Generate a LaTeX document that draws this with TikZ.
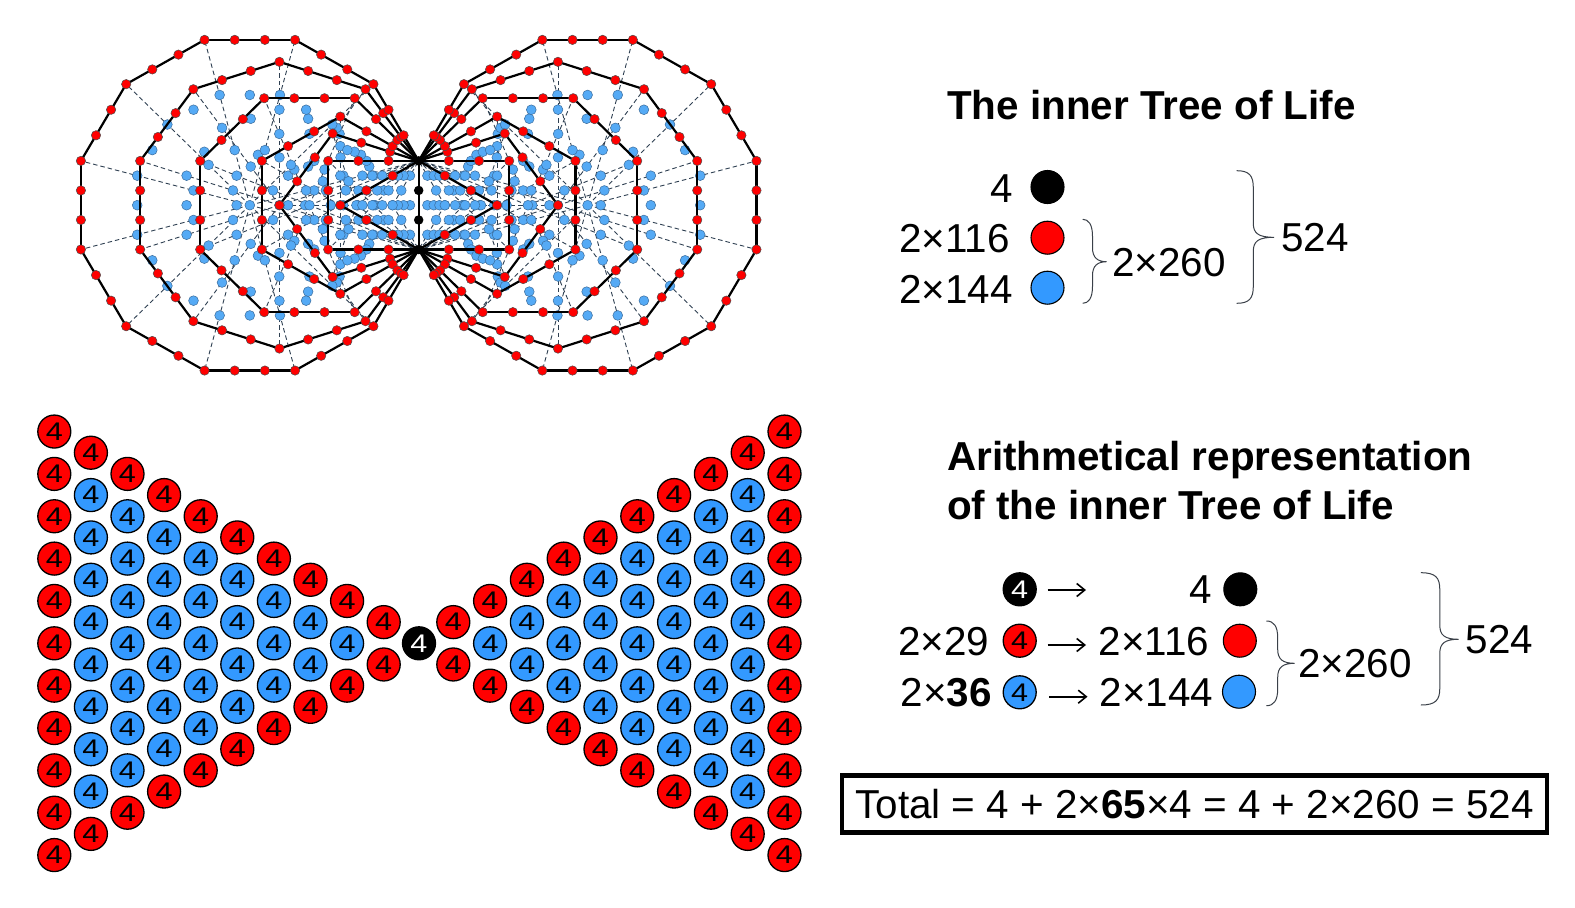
\documentclass[tikz,border=0pt]{standalone}
\usepackage{fontspec}
\setmainfont{Liberation Sans}
\newfontfamily\widefour[FakeStretch=1.2]{Liberation Sans}
\usetikzlibrary{calc,arrows.meta}
\definecolor{rd}{HTML}{FF0000}
\definecolor{bl}{HTML}{3399FF}
\definecolor{smallbl}{HTML}{55AAF5}
\definecolor{spokec}{HTML}{2F4052}
\definecolor{dotedge}{HTML}{3B6C9C}
\definecolor{bracec}{HTML}{3A4048}
\tikzset{
  spoke/.style={draw=spokec,line width=0.9pt,dash pattern=on 4.5pt off 3pt},
  edgeline/.style={draw=black,line width=2.2pt},
  reddot/.style={circle,inner sep=0pt,minimum size=9.4pt,fill=rd,draw=black!70,line width=0.5pt},
  bluedot/.style={circle,inner sep=0pt,minimum size=9.8pt,fill=smallbl,draw=dotedge,line width=0.5pt},
  blackdot/.style={circle,inner sep=0pt,minimum size=9.5pt,fill=black},
  numc/.style={circle,inner sep=0pt,minimum size=33pt,line width=1.3pt,draw=black,font=\widefour\fontsize{25.5}{25.5}\selectfont,text=black},
  numred/.style={numc,fill=rd},
  numblue/.style={numc,fill=bl},
  numblack/.style={numc,fill=black,text=white},
  legc/.style={circle,inner sep=0pt,minimum size=33pt,line width=1.1pt,draw=black},
  big/.style={inner sep=0pt,font=\fontsize{40.4}{40.4}\selectfont},
  ttl/.style={inner sep=0pt,font=\fontsize{40.4}{40.4}\selectfont\bfseries},
  bracket/.style={draw=bracec,line width=1pt},
  keyarrow/.style={draw=black,line width=1.7pt,-{Straight Barb[length=8pt,width=13pt,line width=1.6pt]}},
}
\newcommand\mybrace[6]{% x0 xm xt y0 ym y1
  \draw[bracket] (#1,#4) .. controls ({#2-4},#4) and (#2,{#4+5}) .. (#2,{#4+17})
    -- (#2,{#5-14}) .. controls (#2,{#5-4}) and ({#2+5},#5) .. (#3,#5)
    .. controls ({#2+5},#5) and (#2,{#5+4}) .. (#2,{#5+14})
    -- (#2,{#6-17}) .. controls (#2,{#6-5}) and ({#2-4},#6) .. (#1,#6);
}
\begin{document}
\begin{tikzpicture}[x=1pt,y=-1pt]
\useasboundingbox (0,0) rectangle (1575,908);
\fill[white] (0,0) rectangle (1575,908);
% ---- named geometry of the polygons
\foreach \sd/\sg in {L/1,R/-1} {
  \begin{scope}[shift={(418.7,205.2)},xscale=\sg*90.5,yscale=88.6]
  \coordinate (A\sd) at (0,-0.5);
  \coordinate (B\sd) at (0,0.5);
  \foreach \n in {3,4,5,6,8,10,12} {
    \pgfmathsetmacro\apo{0.5/tan(180/\n)}
    \pgfmathsetmacro\rad{0.5/sin(180/\n)}
    \coordinate (c\sd\n) at ({-\apo},0);
    \pgfmathtruncatemacro\last{\n-1}
    \foreach \k in {0,...,\last} {
      \coordinate (v\sd\n-\k) at ({-\apo+\rad*cos(180/\n+360*\k/\n)},{\rad*sin(180/\n+360*\k/\n)});
    }
  }
  \end{scope}
}
% ---- spokes
\foreach \sd in {L,R} \foreach \n in {3,4,5,6,8,10,12} {
  \pgfmathtruncatemacro\last{\n-1}
  \foreach \k in {0,...,\last} \draw[spoke] (c\sd\n) -- (v\sd\n-\k);
}
% ---- blue dots
\foreach \sd in {L,R} \foreach \n in {3,4,5,6,8,10,12} {
  \pgfmathtruncatemacro\last{\n-1}
  \node[bluedot] (bc\sd\n) at (c\sd\n) {};
  \foreach \k in {0,...,\last} {
    \pgfmathtruncatemacro\nx{mod(\k+1,\n)}
    \node[bluedot] (ba\sd\n-\k) at ($(c\sd\n)!0.3333!(v\sd\n-\k)$) {};
    \node[bluedot] (bb\sd\n-\k) at ($(c\sd\n)!0.6667!(v\sd\n-\k)$) {};
    \node[bluedot] (bm\sd\n-\k) at ($(c\sd\n)!0.6667!($(v\sd\n-\k)!0.5!(v\sd\n-\nx)$)$) {};
  }
}
% ---- polygon edges
\foreach \sd in {L,R} \foreach \n in {3,4,5,6,8,10,12} {
  \pgfmathtruncatemacro\last{\n-1}
  \foreach \k in {0,...,\last} {
    \pgfmathtruncatemacro\nx{mod(\k+1,\n)}
    \draw[edgeline] (v\sd\n-\k) -- (v\sd\n-\nx);
  }
}
% ---- red dots
\foreach \sd in {L,R} \foreach \n in {3,4,5,6,8,10,12} {
  \pgfmathtruncatemacro\last{\n-1}
  \foreach \k in {0,...,\last} {
    \pgfmathtruncatemacro\nx{mod(\k+1,\n)}
    \ifnum\k=\last\relax\else
      \node[reddot] (ra\sd\n-\k) at ($(v\sd\n-\k)!0.3333!(v\sd\n-\nx)$) {};
      \node[reddot] (rb\sd\n-\k) at ($(v\sd\n-\k)!0.6667!(v\sd\n-\nx)$) {};
    \fi
    \ifnum\k>0\relax
      \ifnum\k<\last\relax
        \node[reddot] (rv\sd\n-\k) at (v\sd\n-\k) {};
      \fi
    \fi
  }
}
% ---- central black points
\node[blackdot] (ka) at (AL) {};
\node[blackdot] (kb) at (BL) {};
\node[blackdot] (k1) at ($(AL)!0.3333!(BL)$) {};
\node[blackdot] (k2) at ($(AL)!0.6667!(BL)$) {};
% ---- arithmetical butterfly
\foreach \sd/\xo/\st in {L/54.3/36.6,R/784.5/-36.8} {
  \foreach \c in {0,...,9} {
    \pgfmathtruncatemacro\cnt{11-\c}
    \pgfmathtruncatemacro\lastI{\cnt-1}
    \foreach \i in {0,...,\lastI} {
      \pgfmathsetmacro\xx{\xo+\c*\st}
      \pgfmathsetmacro\yy{643.3+(\i-\lastI/2)*42.35}
      \def\sty{numblue}
      \ifnum\c=0\relax\def\sty{numred}\fi
      \ifnum\i=0\relax\def\sty{numred}\fi
      \ifnum\i=\lastI\relax\def\sty{numred}\fi
      \node[\sty] (n\sd-\c-\i) at (\xx,\yy) {4};
    }
  }
}
\node[numblack] (nc) at (419,643.3) {4};
% ---- upper key
\node[ttl,anchor=base west] (t1) at (947,119.5) {The inner Tree of Life};
\node[big,anchor=base east] (k4) at (1012.7,202.3) {4};
\node[legc,fill=black] (lk) at (1047.5,187) {};
\node[big,anchor=base west] (k116) at (899,252.7) {2×116};
\node[legc,fill=rd] (lr) at (1047.5,237.7) {};
\node[big,anchor=base west] (k144) at (899,303.3) {2×144};
\node[legc,fill=bl] (lb) at (1047.5,287.7) {};
\mybrace{1082.7}{1092.5}{1106.7}{219.3}{261.7}{303.3}
\node[big,anchor=base west] (k260) at (1112.2,276.7) {2×260};
\mybrace{1236.7}{1253.3}{1274}{170.7}{237.3}{303.3}
\node[big,anchor=base west] (k524) at (1281,251) {524};
% ---- lower key
\node[ttl,anchor=base west] (t2) at (947,470.5) {Arithmetical representation};
\node[ttl,anchor=base west] (t3) at (947,519.5) {of the inner Tree of Life};
\node[numblack] (m1) at (1019.7,589.3) {4};
\coordinate (a1s) at (1047.5,590);
\coordinate (a1e) at (1086,590);
\draw[keyarrow] (a1s) -- (a1e);
\node[big,anchor=base east] (m4) at (1212.4,603.3) {4};
\node[legc,fill=black] (q1) at (1240.3,589.3) {};
\node[big,anchor=base west] (m29) at (898,655) {2×29};
\node[numred] (m2) at (1019.7,640.7) {4};
\coordinate (a2s) at (1047.5,645);
\coordinate (a2e) at (1086,645);
\draw[keyarrow] (a2s) -- (a2e);
\node[big,anchor=base west] (m116) at (1098.5,655) {2×116};
\node[legc,fill=rd] (q2) at (1239.8,640.7) {};
\node[big,anchor=base west] (m36) at (900.5,706.7) {2×\textbf{36}};
\node[numblue] (m3) at (1019.7,692.3) {4};
\coordinate (a3s) at (1049,696.7);
\coordinate (a3e) at (1087.5,696.7);
\draw[keyarrow] (a3s) -- (a3e);
\node[big,anchor=base west] (m144) at (1099.5,706.7) {2×144};
\node[legc,fill=bl] (q3) at (1239,691.7) {};
\mybrace{1266.4}{1277.7}{1294.6}{621}{663.3}{705.7}
\node[big,anchor=base west] (m260) at (1298,677.3) {2×260};
\mybrace{1420.8}{1439.8}{1458.7}{572.7}{639.3}{705}
\node[big,anchor=base west] (m524) at (1465.5,653.3) {524};
% ---- total
\node[draw=black,line width=4.5pt,minimum width=705pt,minimum height=57pt,inner sep=0pt,font=\fontsize{40.4}{40.4}\selectfont] (total) at (1194.5,804.2) {Total = 4 + 2×\textbf{65}×4 = 4 + 2×260 = 524};
\end{tikzpicture}
\end{document}
